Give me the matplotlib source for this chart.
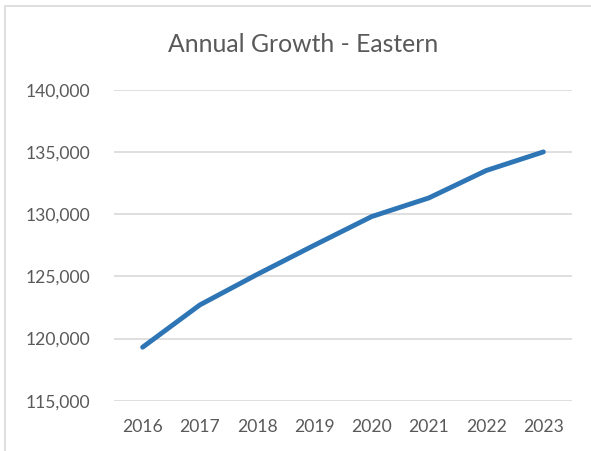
import matplotlib
matplotlib.use("Agg")
import matplotlib.pyplot as plt
from matplotlib.patches import Rectangle
from matplotlib.ticker import FuncFormatter

years = ["2016", "2017", "2018", "2019", "2020", "2021", "2022", "2023"]
values = [119300, 122700, 125150, 127500, 129800, 131300, 133500, 135000]
yticks = [115000, 120000, 125000, 130000, 135000, 140000]

plt.rcParams['font.family'] = ['Lato', 'DejaVu Sans']

W, H = 591, 451
fig = plt.figure(figsize=(W/100, H/100), dpi=100)
fig.patch.set_facecolor("white")

# chart border (extends beyond right/bottom of image)
fig.add_artist(Rectangle((4.5/W, -0.1), 1.2, 1 - 5.5/H + 0.1, transform=fig.transFigure,
                         fill=False, edgecolor="#D9D9D9", linewidth=1.2))

left, right = 114/W, 572/W
bottom, top = 1 - 400.7/H, 1 - 89.7/H
ax = fig.add_axes([left, bottom, right-left, top-bottom])
x = list(range(len(years)))
ax.plot(x, values, color="#2E75B6", linewidth=3.5, solid_capstyle="round", solid_joinstyle="round", zorder=3)
ax.set_xlim(-0.5, len(years)-0.5)
ax.set_ylim(115000, 140000)
ax.set_yticks(yticks)
ax.yaxis.set_major_formatter(FuncFormatter(lambda v, p: f"{int(v):,}"))
ax.set_xticks(x)
ax.set_xticklabels(years)
ax.grid(axis="y", color="#D9D9D9", linewidth=1.2)
ax.set_axisbelow(True)
for s in ax.spines.values():
    s.set_visible(False)
ax.tick_params(axis="both", length=0, colors="#595959", labelsize=12.6)
ax.tick_params(axis="y", pad=17)
ax.tick_params(axis="x", pad=13)

fig.text((170+437)/2/W, 1 - 45/H, "Annual Growth - Eastern", ha="center", va="center",
         fontsize=17.8, color="#595959")

fig.savefig("out.png", dpi=100, facecolor="white")
